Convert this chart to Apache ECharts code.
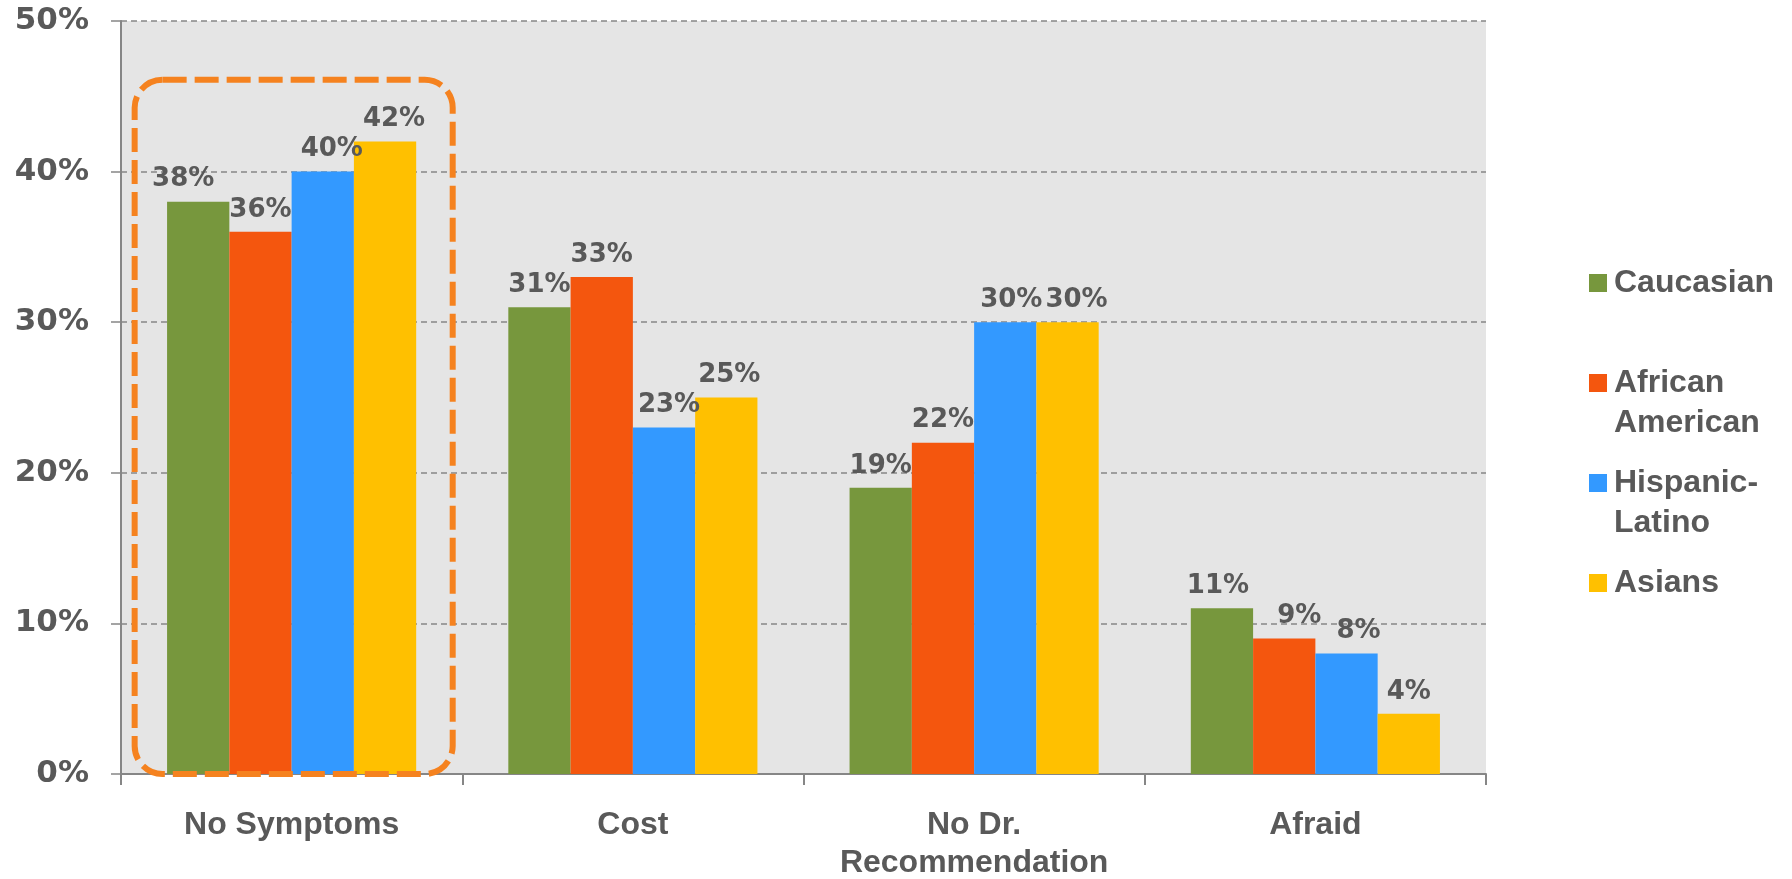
<!DOCTYPE html>
<html>
<head>
<meta charset="utf-8">
<script src="https://cdn.jsdelivr.net/npm/echarts@6/dist/echarts.min.js"></script>
<style>
  html, body { margin: 0; padding: 0; background: #ffffff; }
  #chart { width: 1792px; height: 879px; }
</style>
</head>
<body>
<div id="chart"></div>
<script>
// Reasons given for skipping screening, by group (percent of respondents)
const categories = ['No Symptoms', 'Cost', 'No Dr.\nRecommendation', 'Afraid'];
const groupNames = ['Caucasian', 'African American', 'Hispanic-Latino', 'Asians'];
const caucasian = [38, 31, 19, 11];
const africanAmerican = [36, 33, 22, 9];
const hispanicLatino = [40, 23, 30, 8];
const asians = [42, 25, 30, 4];
const yAxisMax = 50;
const yAxisStep = 10;

// Presentation settings
const colors = ['#77973D', '#F4560E', '#3399FF', '#FFC000'];
const textColor = '#595959';
const axisGray = '#868686';
const legendLines = {
  'Caucasian': 'Caucasian',
  'African American': 'African\nAmerican',
  'Hispanic-Latino': 'Hispanic-\nLatino',
  'Asians': 'Asians'
};
// small horizontal nudges for a few value labels (px)
const labelNudge = [
  [-15, 0, 0, -4],
  [0, 0, 0, 15],
  [9, 5, 6, 12],
  [9, 3, 9, 0]
];
const legendIconTops = [274, 374, 474, 574];
const legendLineHeight = 40;

const seriesValues = [caucasian, africanAmerican, hispanicLatino, asians];

const series = groupNames.map((name, si) => ({
  name: name,
  type: 'bar',
  barGap: '0%',
  barCategoryGap: '27%',
  itemStyle: { color: colors[si] },
  label: {
    show: true,
    position: 'top',
    distance: 9,
    formatter: '{c}%',
    fontFamily: 'DejaVu Sans',
    fontWeight: 'bold',
    fontSize: 26,
    color: textColor
  },
  data: seriesValues[si].map((v, ci) => ({
    value: v,
    label: { offset: [labelNudge[si][ci], 0] }
  }))
}));

// One legend per group so that each icon sits beside the first line of its text.
// Two-line names get a blank leading line, which keeps the first text line
// vertically centred on the icon.
const legends = groupNames.map((name, si) => {
  const text = legendLines[name];
  const lines = text.split('\n').length;
  const shown = lines > 1 ? ' \n' + text : text;
  const shownLines = shown.split('\n').length;
  const boxTop = 9 - (shownLines * legendLineHeight) / 2;
  return {
    orient: 'vertical',
    left: 1589,
    top: legendIconTops[si] + Math.min(0, boxTop),
    padding: 0,
    itemWidth: 18,
    itemHeight: 18,
    icon: 'rect',
    data: [name],
    formatter: () => shown,
    selectedMode: false,
    textStyle: {
      fontFamily: 'Liberation Sans',
      fontWeight: 'bold',
      fontSize: 32,
      lineHeight: legendLineHeight,
      color: textColor,
      padding: [0, 0, 0, 2]
    }
  };
});

const option = {
  animation: false,
  backgroundColor: '#ffffff',
  grid: {
    left: 121, right: 306, top: 21, bottom: 105,
    show: true,
    backgroundColor: '#e5e5e5',
    borderWidth: 0,
    outerBoundsMode: 'none'
  },
  legend: legends,
  xAxis: {
    type: 'category',
    data: categories,
    axisLine: { show: true, lineStyle: { color: axisGray, width: 2 } },
    axisTick: { show: true, length: 11, lineStyle: { color: axisGray, width: 2 } },
    axisLabel: {
      margin: 32,
      interval: 0,
      fontFamily: 'Liberation Sans',
      fontWeight: 'bold',
      fontSize: 32,
      lineHeight: 38,
      color: textColor
    }
  },
  yAxis: {
    type: 'value',
    min: 0,
    max: yAxisMax,
    interval: yAxisStep,
    axisLine: { show: true, lineStyle: { color: axisGray, width: 2 } },
    axisTick: { show: true, length: 10, lineStyle: { color: axisGray, width: 1.5 } },
    axisLabel: {
      formatter: '{value}%',
      margin: 32,
      fontFamily: 'DejaVu Sans',
      fontWeight: 'bold',
      fontSize: 31,
      color: textColor
    },
    splitLine: { show: true, lineStyle: { color: axisGray, width: 1.5, type: [6, 4] } }
  },
  series: series
};

const chart = echarts.init(document.getElementById('chart'));
chart.setOption(option);

// Dashed rounded highlight around the first category group
const c0 = chart.convertToPixel({ xAxisIndex: 0 }, 0);
const c1 = chart.convertToPixel({ xAxisIndex: 0 }, 1);
const band = c1 - c0;
const yTop = chart.convertToPixel({ yAxisIndex: 0 }, 46.1);
const yBottom = chart.convertToPixel({ yAxisIndex: 0 }, 0);
chart.setOption({
  graphic: [{
    type: 'rect',
    z: 20,
    shape: { x: c0 - 0.46 * band, y: yTop, width: 0.932 * band, height: yBottom - yTop, r: 28 },
    style: { fill: 'none', stroke: '#F5821F', lineWidth: 6, lineDash: [24, 8] }
  }]
});
</script>
</body>
</html>
